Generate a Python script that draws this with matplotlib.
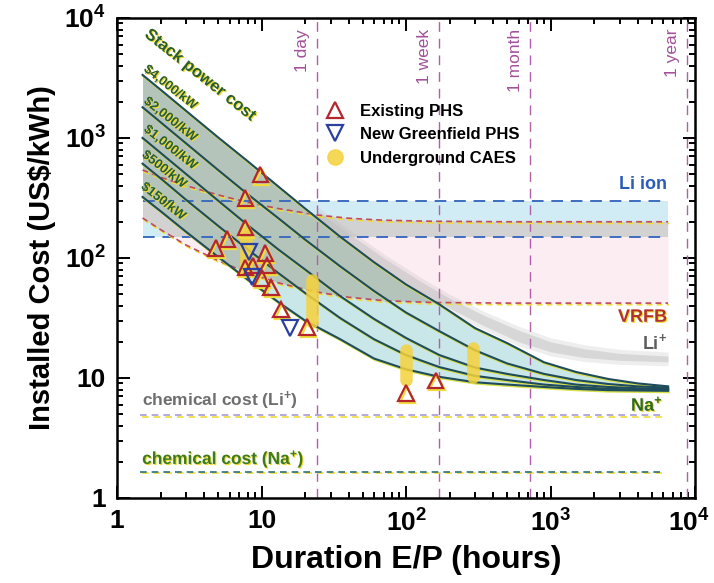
import numpy as np
import matplotlib.pyplot as plt
import matplotlib.patheffects as pe
import matplotlib.transforms as mtransforms
from matplotlib.lines import Line2D

plt.rcParams['font.family'] = ['Liberation Sans', 'DejaVu Sans']
plt.rcParams['font.weight'] = 'bold'
plt.rcParams['axes.labelweight'] = 'bold'
plt.rcParams['mathtext.fontset'] = 'custom'
plt.rcParams['mathtext.rm'] = 'Liberation Sans:bold'
plt.rcParams['mathtext.bf'] = 'Liberation Sans:bold'
plt.rcParams['mathtext.it'] = 'Liberation Sans:bold'

# stack power cost curves (duration h -> US$/kWh)
stack_x = [1.5, 2, 3, 5, 8, 13, 20, 35, 60, 100, 170, 300, 500, 900, 1500, 2500, 4000, 6500]
c4000 = [3350, 2520, 1680, 1010, 640, 395, 258, 150, 92, 60, 41, 26, 19.5, 13.5, 11.2, 9.8, 9.0, 8.5]
c2000 = [1800, 1350, 900, 540, 340, 215, 142, 85, 53, 35, 24.5, 17, 13.2, 10.8, 9.6, 8.9, 8.5, 8.3]
c1000 = [1000, 750, 500, 300, 188, 118, 80, 48, 31, 21.5, 15.5, 12.2, 10.8, 9.6, 8.8, 8.4, 8.2, 8.1]
c500 = [610, 460, 305, 185, 118, 75, 51, 31.5, 21, 15.5, 12.3, 10.4, 9.6, 8.8, 8.4, 8.1, 8.0, 7.95]
c150 = [322, 245, 165, 102, 66, 43, 30, 21, 14.5, 11.8, 10.2, 9.2, 8.8, 8.4, 8.1, 7.9, 7.85, 7.8]
stack_curves = [c4000, c2000, c1000, c500, c150]
stack_labels = ['$4,000/kW', '$2,000/kW', '$1,000/kW', '$500/kW', '$150/kW']
stack_lab_x = [2.33, 2.33, 2.33, 2.11, 2.08]
stack_lab_y = [2610, 1413, 825, 541, 293]

# VRFB band
vrfb_x = [1.5, 2, 3, 5, 8, 13, 24, 40, 70, 150, 500, 6500]
vrfb_up = [540, 470, 400, 335, 290, 258, 228, 214, 206, 202, 200, 200]
vrfb_lo = [215, 172, 128, 95, 75, 62, 52, 47, 44, 42.5, 42, 42]

# Li ion band
liion_x = [1.5, 6500]
liion_up = [300, 300]
liion_lo = [150, 150]

# Li+ fuzzy band
lip_x = [24, 40, 70, 120, 200, 350, 600, 1000, 1700, 3000, 6500]
lip_up = [250, 160, 100, 66, 46, 33, 25, 20, 17.5, 16, 15.2]
lip_lo = [215, 132, 82, 54, 38, 27, 20, 16.5, 14.8, 14, 13.6]

# chemical costs
chem_x = [1.45, 5800]
chem_li = [4.9, 4.9]
chem_na = [1.65, 1.65]

# markers
phs_x = [9.8, 7.7, 7.7, 5.8, 4.8, 10.6, 10.9, 8.7, 7.7, 10.0, 11.6, 13.6, 20.6, 100, 160]
phs_y = [492, 316, 178, 144, 121, 110, 87, 87, 83, 68, 57, 37, 26.6, 7.5, 9.5]
green_x = [8.2, 8.6, 15.7]
green_y = [112, 69, 26]
caes_x = [7.8, 22.4, 100, 291]
caes_lo = [80, 29, 9.6, 10.2]
caes_hi = [160, 65, 17, 17.8]

# time markers
time_x = [24, 168, 720, 8760]
time_lab = ['1 day', '1 week', '1 month', '1 year']

fig = plt.figure(figsize=(7.14, 5.83), dpi=100)
ax = fig.add_axes([0.164, 0.146, 0.8095, 0.8233])
ax.set_xscale('log')
ax.set_yscale('log')
ax.set_xlim(1, 1e4)
ax.set_ylim(1, 1e4)

# fills
vr = ax.fill_between(vrfb_x, vrfb_lo, vrfb_up, color='#fcedf2', lw=0, zorder=1)
ax.fill_between(liion_x, liion_lo, liion_up, color='#d2ecf6', lw=0, zorder=1.1)
gray = ax.fill_between(liion_x, liion_lo, liion_up, color='#d2d2d2', lw=0, zorder=1.2)
gray.set_clip_path(vr.get_paths()[0], ax.transData)
ax.fill_between(stack_x, c150, c4000, color='#c9e6e9', lw=0, zorder=1.3)
above = ax.fill_between(vrfb_x, vrfb_lo, [1e4] * len(vrfb_x), color='none', lw=0)
gg = ax.fill_between(stack_x, c150, c4000, color='#b5c4ba', lw=0, zorder=1.4)
gg.set_clip_path(above.get_paths()[0], ax.transData)
for w, a in [(1.08, 0.25), (1.0, 0.45)]:
    ax.fill_between(lip_x, np.array(lip_lo) / w, np.array(lip_up) * w,
                    color='#bdbdbd', alpha=a, lw=0, zorder=1.5)

# dashed horizontal lines
yshadow = [pe.SimpleLineShadow(offset=(0.8, -1.2), shadow_color='#f0dc3c', alpha=1), pe.Normal()]
for yy in (liion_up, liion_lo):
    ax.plot(liion_x, yy, color='#3d6cc0', lw=1.4, ls=(0, (6, 4)), zorder=3)
for yy in (vrfb_up, vrfb_lo):
    ax.plot(vrfb_x, yy, color='#c04a5a', lw=1.2, ls=(0, (3.5, 2.5)), zorder=3,
            path_effects=yshadow)
ax.plot(chem_x, chem_li, color='#a99ad8', lw=1.2, ls=(0, (4, 3)), zorder=3, path_effects=yshadow)
ax.plot(chem_x, chem_na, color='#2f6f7a', lw=1.2, ls=(0, (4, 3)), zorder=3, path_effects=yshadow)

# time lines
for tx, tl in zip(time_x, time_lab):
    ax.axvline(tx, color='#b060a8', lw=1.0, ls=(0, (7, 5)), zorder=2)
    ax.text(tx * 0.8, 8100, tl, rotation=90, ha='center', va='top', color='#a2509a',
            fontsize=12.5, fontweight='normal', zorder=5)

# stack curves
for cy in stack_curves:
    ax.plot(stack_x, cy, color='#1f4c5c', lw=1.5, zorder=4,
            path_effects=[pe.SimpleLineShadow(offset=(0.6, -1), shadow_color='#d8e04a', alpha=1), pe.Normal()])

tshadow = [pe.SimplePatchShadow(offset=(0.8, -0.8), shadow_rgbFace='#ecdc3a', alpha=1), pe.Normal()]
for lab, lx, ly in zip(stack_labels, stack_lab_x, stack_lab_y):
    ax.text(lx, ly, lab, rotation=-38, ha='center', va='center', rotation_mode='anchor',
            color='#2b5e2b', fontsize=9.5, zorder=6, path_effects=tshadow)
ax.text(3.75, 3350, 'Stack power cost', rotation=-38.5, ha='center', va='center',
        rotation_mode='anchor', color='#2b5e2b', fontsize=12, zorder=6, path_effects=tshadow)

# data markers
for cx, lo, hi in zip(caes_x, caes_lo, caes_hi):
    ax.plot([cx, cx], [lo, hi], color='#f5d23c', lw=9, alpha=0.85,
            solid_capstyle='round', zorder=5)
mshadow = [pe.SimpleLineShadow(offset=(1, -1.5), shadow_color='#f0dc3c', alpha=1), pe.Normal()]
ax.plot(phs_x, phs_y, ls='none', marker='^', ms=11, mfc='none', mec='#b5262c', mew=1.6,
        zorder=7, path_effects=mshadow)
ax.plot(green_x, green_y, ls='none', marker='v', ms=11, mfc='none', mec='#2b3f9e', mew=1.6,
        zorder=7)

# text labels
ax.text(6400, 406, 'Li ion', ha='right', va='center', color='#2a5cb8', fontsize=13, zorder=6)
ax.text(6400, 32, 'VRFB', ha='right', va='center', color='#b3302c', fontsize=13, zorder=6,
        path_effects=tshadow)
ax.text(6400, 19.6, 'Li$^{+}$', ha='right', va='center', color='#5e5e5e', fontsize=13, zorder=6)
ax.text(6000, 5.96, 'Na$^{+}$', ha='right', va='center', color='#2e6a1e', fontsize=13, zorder=6,
        path_effects=tshadow)
ax.text(1.49, 6.4, 'chemical cost (Li$^{+}$)', ha='left', va='center', color='#6e6e6e',
        fontsize=12.5, zorder=6)
ax.text(1.49, 2.11, 'chemical cost (Na$^{+}$)', ha='left', va='center', color='#3f7a1c',
        fontsize=12.5, zorder=6, path_effects=tshadow)

handles = [
    Line2D([], [], ls='none', marker='^', ms=11, mfc='none', mec='#b5262c', mew=1.6),
    Line2D([], [], ls='none', marker='v', ms=11, mfc='none', mec='#2b3f9e', mew=1.6),
    Line2D([], [], ls='none', marker='o', ms=11, color='#f5d23c', alpha=0.85),
]
ax.legend(handles, ['Existing PHS', 'New Greenfield PHS', 'Underground CAES'],
          loc='upper left', bbox_to_anchor=(0.333, 0.852), frameon=False, fontsize=12,
          handlelength=1.2, handletextpad=0.9, labelspacing=0.5)

# axes styling
ticks = [1, 10, 100, 1000, 10000]
tick_labels = ['1', '10', '10$^2$', '10$^3$', '10$^4$']
ax.set_xticks(ticks, tick_labels)
ax.set_yticks(ticks, tick_labels)
ax.tick_params(which='both', direction='in', top=True, right=True, width=1.4, labelsize=19)
ax.tick_params(which='major', length=9, pad=8)
ax.tick_params(which='minor', length=4.5)
for lbl in ax.get_xticklabels() + ax.get_yticklabels():
    lbl.set_fontweight('bold')
last = ax.get_xticklabels()[-1]
last.set_transform(last.get_transform() + mtransforms.ScaledTranslation(-6 / 100, 0, fig.dpi_scale_trans))
for s in ax.spines.values():
    s.set_linewidth(1.8)
ax.set_xlabel('Duration E/P (hours)', fontsize=23, fontweight='bold', labelpad=6)
ax.set_ylabel('Installed Cost (US$/kWh)', fontsize=21, fontweight='bold', labelpad=6)

fig.savefig('out.png', dpi=100)
